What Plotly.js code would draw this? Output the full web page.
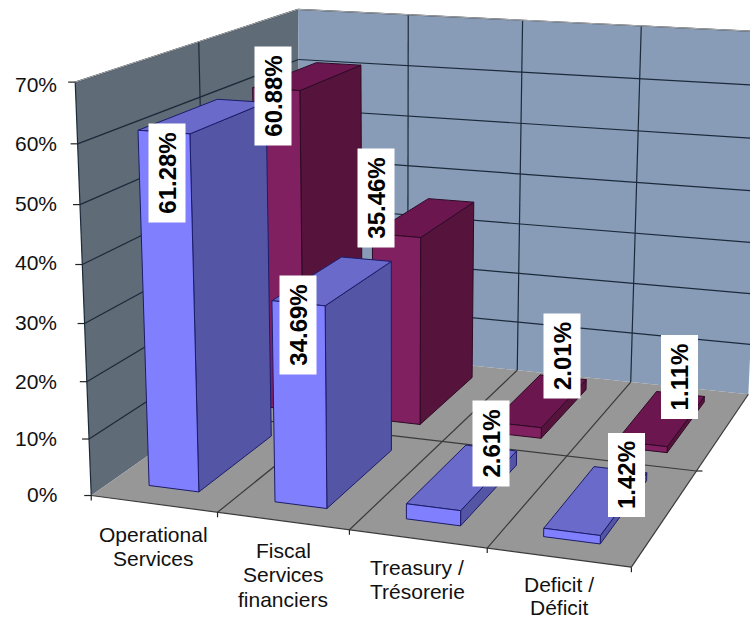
<!DOCTYPE html>
<html><head><meta charset="utf-8">
<script src="https://cdn.plot.ly/plotly-3.0.1.min.js"></script>
<style>html,body{margin:0;padding:0;background:#fff}#c{width:750px;height:619px}</style>
</head><body><div id="c"></div>
<script>
// ---- data ----
const categories = ["Operational<br>Services","Fiscal<br>Services<br>financiers","Treasury /<br>Trésorerie","Deficit /<br>Déficit"];
const seriesFront = [61.28,34.69,2.61,1.42];
const seriesBack  = [60.88,35.46,2.01,1.11];
const yTicks = [0,10,20,30,40,50,60,70];

// ---- camera calibration: [cat, depth, value, pixelX, pixelY] ----
const calib = [
 [0,0,0,91.7,496],[1,0,0,217.7,513],[2,0,0,349.3,530],[3,0,0,487.3,549],[4,0,0,631,566.7],
 [0,0,70,75.5,82],[0,1,70,297.7,9],[2,1,70,522.7,20],[3,1,70,641.3,26],
 [2,1,0,517,370],[3,1,0,631,382.7],[4,0.5,0,696.7,470],[0,0.5,70,199.3,42.7],
 [0,0,60,76.7,144],[0,0,50,80,204],[0,0,10,89,437.7],[3,1,30,635,233],[3,1,60,640,79],[2,1,30,519,224]
];
function solve(A,b){const n=b.length;const M=A.map((r,i)=>r.concat(b[i]));
 for(let i=0;i<n;i++){let p=i;for(let k=i+1;k<n;k++)if(Math.abs(M[k][i])>Math.abs(M[p][i]))p=k;
  [M[i],M[p]]=[M[p],M[i]];
  for(let k=0;k<n;k++){if(k===i)continue;const f=M[k][i]/M[i][i];for(let j=i;j<=n;j++)M[k][j]-=f*M[i][j];}}
 return M.map((r,i)=>r[n]/r[i]);}
function fit(){const rows=[],rhs=[];
 calib.forEach(([x,z,v,u,w])=>{const y=v/70;
  rows.push([x,z,y,1,0,0,0,0,-u*x,-u*z,-u*y]);rhs.push(u);
  rows.push([0,0,0,0,x,z,y,1,-w*x,-w*z,-w*y]);rhs.push(w);});
 const n=11,A=[],b=[];
 for(let i=0;i<n;i++){A.push([]);let s=0;for(let k=0;k<rows.length;k++)s+=rows[k][i]*rhs[k];b.push(s);
  for(let j=0;j<n;j++){let t=0;for(let k=0;k<rows.length;k++)t+=rows[k][i]*rows[k][j];A[i].push(t);}}
 return solve(A,b);}
const H=fit();
function P(x,z,v){const y=v/70,d=H[8]*x+H[9]*z+H[10]*y+1;
 return [(H[0]*x+H[1]*z+H[2]*y+H[3])/d,(H[4]*x+H[5]*z+H[6]*y+H[7])/d];}

// ---- styling ----
const C={left:"#5f6b76",back:"#889cb8",floor:"#979797",grid:"#1b2a3a",floorLine:"#3a3a3a",
 front:{f:"#8080ff",s:"#5555a6",t:"#6a6acb",l:"#1c1c6a"},
 rear:{f:"#802060",s:"#56143c",t:"#6c1650",l:"#2e0a26"}};
const traces=[];
function poly(pts,fill,line,w){traces.push({type:"scatter",mode:line?"lines":"none",
 x:pts.map(p=>p[0]).concat(pts[0][0]),y:pts.map(p=>p[1]).concat(pts[0][1]),
 fill:"toself",fillcolor:fill,line:{color:line||fill,width:w||1},hoverinfo:"skip",showlegend:false});}
function seg(a,b,col,w){traces.push({type:"scatter",mode:"lines",x:[a[0],b[0]],y:[a[1],b[1]],
 line:{color:col,width:w||1},hoverinfo:"skip",showlegend:false});}

const N=categories.length;
poly([P(0,0,0),P(0,1,0),P(0,1,70),P(0,0,70)],C.left);
poly([P(0,1,0),P(N,1,0),P(N,1,70),P(0,1,70)],C.back);
poly([P(0,0,0),P(N,0,0),P(N,1,0),P(0,1,0)],C.floor);
yTicks.forEach(v=>{ if(v===0) return;
 seg(P(0,0,v),P(0,1,v),C.grid,1.2);
 seg(P(0,1,v),P(N,1,v),C.grid,1.2);});
seg(P(0,.5,0),P(0,.5,70),C.grid,1.2);
for(let i=1;i<N;i++) seg(P(i,1,0),P(i,1,70),C.grid,1.2);
for(let i=1;i<N;i++) seg(P(i,0,0),P(i,1,0),C.floorLine,1.2);
seg(P(0,.5,0),P(N,.5,0),C.floorLine,1.2);
seg(P(0,0,0),P(N,0,0),C.floorLine,1.2);
seg(P(N,0,0),P(N,1,0),C.floorLine,1.2);
seg(P(0,0,0),P(0,0,70),C.grid,1.2);
seg(P(0,0,70),P(0,1,70),"#b0b0b0",1);
seg(P(0,1,70),P(N,1,70),"#b0b0b0",1);
yTicks.forEach(v=>{const p=P(0,0,v);seg(p,[p[0]-7,p[1]],"#222",1.2);});
for(let i=0;i<=N;i++){const p=P(i,0,0);seg(p,[p[0],p[1]+5],"#222",1.2);}
{const p=P(N,.5,0);seg(p,[p[0]+6,p[1]],"#222",1.2);}

function bar(i,z0,z1,v,c){const x0=i+.3,x1=i+.7;
 poly([P(x1,z0,0),P(x1,z1,0),P(x1,z1,v),P(x1,z0,v)],c.s,c.l,1);
 poly([P(x0,z0,v),P(x1,z0,v),P(x1,z1,v),P(x0,z1,v)],c.t,c.l,1);
 poly([P(x0,z0,0),P(x1,z0,0),P(x1,z0,v),P(x0,z0,v)],c.f,c.l,1);}
seriesBack.forEach((v,i)=>bar(i,.583,.917,v,C.rear));
seriesFront.forEach((v,i)=>bar(i,.083,.417,v,C.front));

// ---- text ----
const FONT='"Liberation Sans", Arial, sans-serif';
const ann=[];
function txt(x,y,t,o){ann.push(Object.assign({x,y,xref:"x",yref:"y",text:t,showarrow:false,
 font:{family:FONT,size:21,color:"#111"},xanchor:"center",yanchor:"middle"},o||{}));}
const yLabelY=[494,438,381,322,262,203,143,84];
yTicks.forEach((v,i)=>txt(58.5,yLabelY[i],v+"%",{xanchor:"right"}));
const catLabelX=[153.5,283,417,559];
const catLabelY=[534.5,550,567.5,584.5];
const catLineStep=[24,24.5,24,23];
categories.forEach((c,i)=>c.split("<br>").forEach((l,k)=>txt(catLabelX[i],catLabelY[i]+k*catLineStep[i],l)));
const fmt=v=>v.toFixed(2)+"%";
const labelsFront=[[167,173,98],[298,325,98],[491,444,85],[626,475.5,83]];
const labelsBack=[[273,96,98],[376,198,98],[562,356,84],[679,377.5,83]];
function dl(v,[x,y,h]){txt(x,y,"<b>"+fmt(v)+"</b>",{textangle:-90,bgcolor:"#fff",width:h,height:36,borderpad:0,
 font:{family:FONT,size:24,color:"#000"},align:"center",valign:"middle"});}
seriesBack.forEach((v,i)=>dl(v,labelsBack[i]));
seriesFront.forEach((v,i)=>dl(v,labelsFront[i]));

Plotly.newPlot("c",traces,{width:750,height:619,margin:{l:0,r:0,t:0,b:0},
 paper_bgcolor:"#fff",plot_bgcolor:"#fff",showlegend:false,
 xaxis:{range:[0,750],visible:false,fixedrange:true},
 yaxis:{range:[619,0],visible:false,fixedrange:true},annotations:ann},{staticPlot:true,displayModeBar:false});
</script></body></html>
